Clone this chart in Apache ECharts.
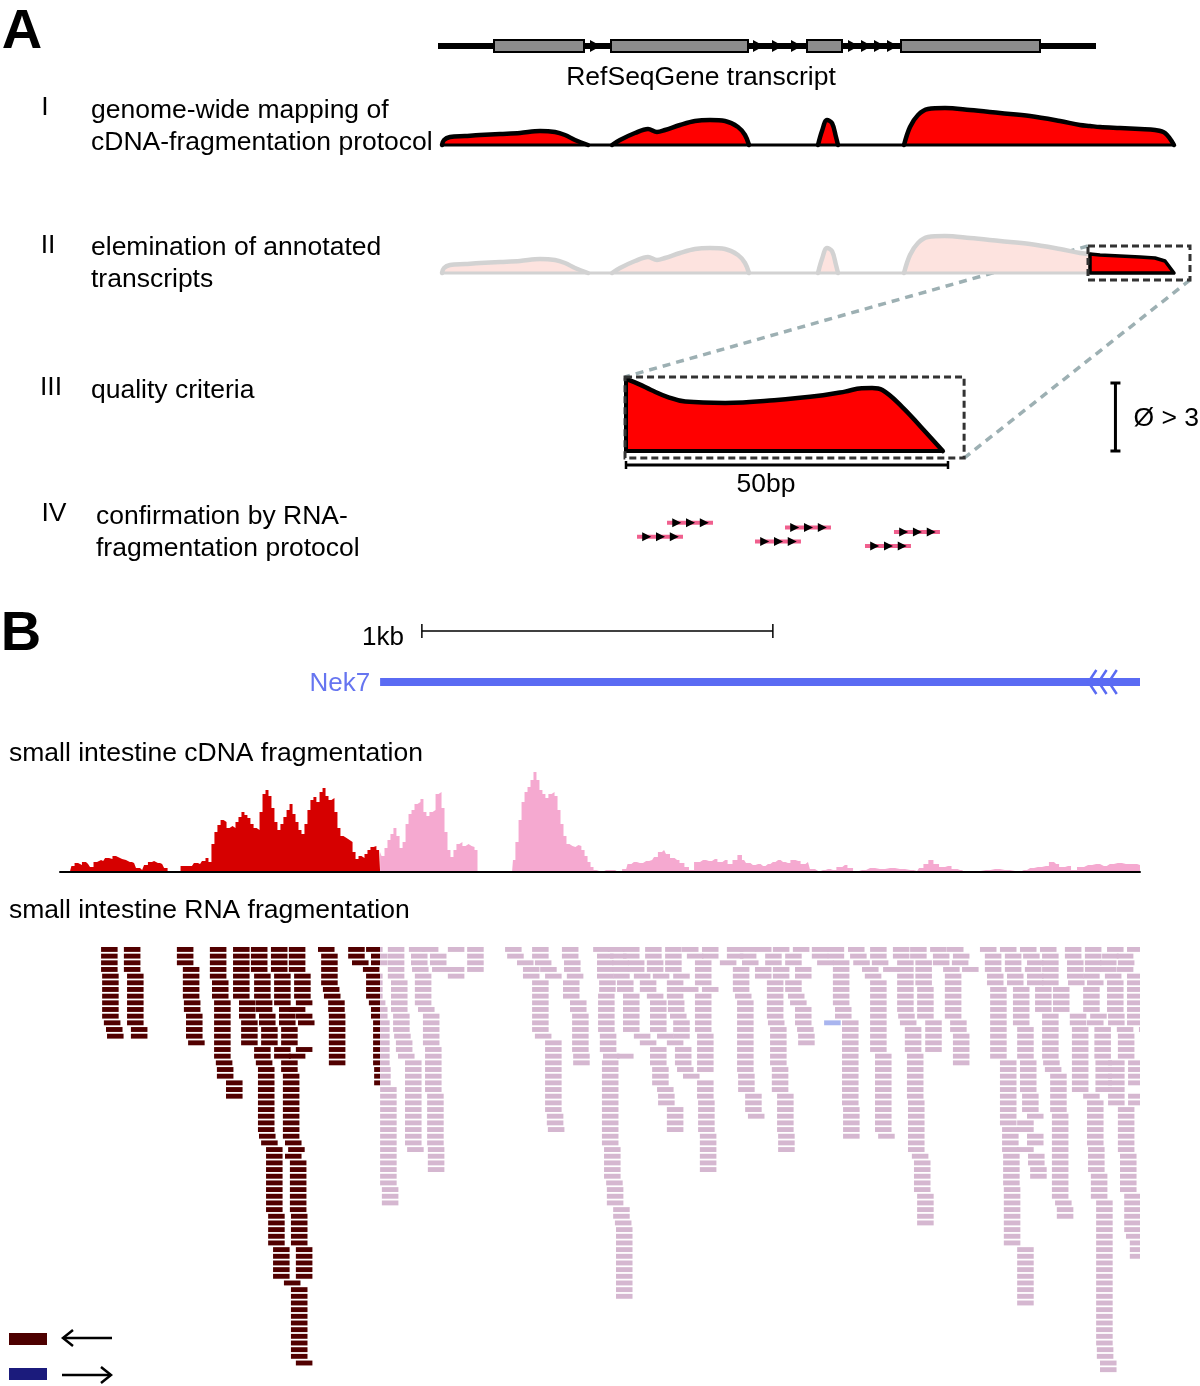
<!DOCTYPE html>
<html>
<head>
<meta charset="utf-8">
<title>cDNA vs RNA fragmentation – Nek7</title>
<script src="https://cdn.jsdelivr.net/npm/echarts@6/dist/echarts.min.js"></script>
<style>
html,body{margin:0;padding:0;background:#ffffff;}
#chart{width:1200px;height:1386px;}
</style>
</head>
<body>
<div id="chart"></div>
<script>
// ======================= DATA =======================
// ---- Panel A (schematic units along the RefSeq transcript) ----
const transcriptSpan = [0, 329];
const exons = [[28, 73], [86.5, 155], [184.5, 202], [231.5, 301]];
const intronArrows = [78.5, 160, 169.5, 179, 207.5, 214, 220.5, 227];
// cDNA coverage blobs: [position, height]
const cdnaSeg1 = [[2,0],[3,5],[6,8],[13.5,9],[21,10],[31,11],[41,12],[51,14],[58.5,13],[63.5,10],[68.5,5],[75,0]];
const cdnaSeg2 = [[87,0],[91,5],[98.5,12],[105,16],[109.5,13],[113.5,15],[121,20],[128.5,24],[136,25],[143.5,24],[150,18],[153.5,10],[155.5,0]];
const cdnaSeg3 = [[190,0],[192,14],[194.5,25],[197,22],[199,8],[200,0]];
const cdnaSeg4 = [[233,0],[236,18],[240,30],[245,36],[253.5,37],[266,35],[281,32],[296,29],[311,24],[321,20],[326,19],[331,18],[341,17],[351,16],[358.5,15],[363.5,12],[368,0]];
const novelStart = 326;              // start of the non-annotated region
const novelBox = [325, 376, -7, 27]; // x0, x1, y0, y1
// zoomed novel region (bp, mean coverage)
const zoomProfile = [[0,3.18],[2,2.95],[3.9,2.69],[6.5,2.38],[9.2,2.18],[15.4,2.12],[23,2.24],[30.6,2.46],[34,2.62],[36.6,2.77],[38.2,2.78],[39.8,2.69],[42.9,1.94],[45.8,1.06],[49.2,0]];
const zoomWindow = [-0.15, 52.5, -0.31, 3.27];
const scaleBarBp = [0, 50];
const coverageThreshold = [76, 3];   // [position, mean coverage]
// confirming RNA-fragmentation reads: [start bp, row]
const confirmReads = [[6.37,0],[1.71,3],[24.69,1],[20.03,4],[41.61,2],[37.11,5]];
const confirmReadLength = 7.14;

// ---- Panel B (bp along the locus) ----
const regionLength = 3077;
const highlightEnd = 912;
const kbBar = [1031, 2031];
const geneName = 'Nek7';
const geneSpan = [912, 3077];
const geneChevrons = [2930, 2959, 2988];
// cDNA fragmentation coverage: [bp, depth]
const cdnaCoverage = [
[0,0],[28,0],[37,6],[46,9],[57,7],[68,10],[80,8],[91,5],[100,10],[111,12],[123,11],[134,14],[145,13],[154,16],[165,14],[177,13],[188,12],[199,10],[211,9],[222,4],[234,2],[245,7],[256,10],[268,11],[279,9],[291,8],[302,4],[311,0],[376,6],[387,9],[399,8],[410,11],[419,14],[427,10],[436,28],[444,40],[453,47],[462,52],[470,50],[479,44],[487,46],[496,44],[504,50],[513,55],[521,60],[530,57],[538,54],[547,48],[556,44],[564,42],[573,60],[581,78],[590,82],[598,76],[607,64],[615,50],[624,42],[632,48],[641,55],[650,62],[658,68],[667,58],[675,50],[684,42],[692,38],[701,48],[709,62],[718,72],[726,75],[735,70],[744,80],[752,84],[761,76],[769,72],[778,74],[786,60],[795,44],[803,36],[812,34],[821,32],[829,30],[838,20],[846,13],[855,16],[863,14],[872,18],[880,22],[889,25],[897,26],[906,22],[912,20],
[920,16],[929,24],[937,32],[946,38],[954,44],[963,36],[972,24],[980,30],[989,48],[997,58],[1006,62],[1014,68],[1023,70],[1031,73],[1040,60],[1048,56],[1057,60],[1066,62],[1074,78],[1083,80],[1091,64],[1100,40],[1108,22],[1117,15],[1125,22],[1134,28],[1142,30],[1151,26],[1160,28],[1168,26],[1177,25],[1185,22],[1194,0],[1288,0],[1293,12],[1302,30],[1311,52],[1319,70],[1328,80],[1336,85],[1345,92],[1353,100],[1362,92],[1370,82],[1379,78],[1387,74],[1396,78],[1405,80],[1413,76],[1422,62],[1430,48],[1439,36],[1447,28],[1456,26],[1464,25],[1473,27],[1481,26],[1490,22],[1499,16],[1507,10],[1516,5],[1524,2],[1533,0],[1556,2],[1573,2],[1590,0],[1613,3],[1621,8],[1635,10],[1652,9],[1670,11],[1687,12],[1698,15],[1709,20],[1721,22],[1732,18],[1744,14],[1758,12],[1772,9],[1786,5],[1798,2],[1815,10],[1832,12],[1849,11],[1866,13],[1880,10],[1895,12],[1909,8],[1923,12],[1937,17],[1949,12],[1960,9],[1974,7],[1989,8],[2003,6],[2017,8],[2031,10],[2046,12],[2060,10],[2074,9],[2088,12],[2103,11],[2117,8],[2131,10],[2142,3],[2160,1],[2174,2],[2188,3],[2202,2],[2222,5],[2236,7],[2251,4],[2268,1],[2285,2],[2308,4],[2336,3],[2365,4],[2393,3],[2422,2],[2442,1],[2453,4],[2467,8],[2481,12],[2496,8],[2513,5],[2530,6],[2550,3],[2564,2],[2576,0],[2638,2],[2664,3],[2692,2],[2721,1],[2735,0],[2746,2],[2764,4],[2786,5],[2809,6],[2826,10],[2838,8],[2855,5],[2872,6],[2889,2],[2906,5],[2929,7],[2952,8],[2974,6],[2991,8],[3014,9],[3037,8],[3060,8],[3077,7]
];
// RNA fragmentation reads (reverse strand), stacked: [start bp, first row, last row]
const readLength = 50;
const reverseReadStacks = [
[117,0,3],[120,4,10],[125,11,11],[131,12,12],[134,13,13],
[182,0,3],[191,4,11],[202,12,13],
[333,0,2],[350,3,7],[353,8,9],[359,10,13],[365,14,14],
[427,0,4],[433,5,7],[439,8,16],[444,17,17],[447,18,19],[473,20,22],
[493,0,7],[510,8,10],[516,11,14],
[544,0,3],[553,4,7],[558,8,9],[567,10,11],[573,12,14],[553,15,16],[558,17,17],[564,18,27],[567,28,28],[573,29,29],[587,30,39],[593,40,44],[607,45,49],[638,50,50],[658,51,61],[672,62,62],
[601,0,3],[610,4,8],[624,9,11],[630,12,14],[610,15,16],[630,17,18],[635,19,28],[641,29,29],[650,30,30],[641,31,31],[655,32,39],[658,40,44],[672,45,49],
[652,0,3],[667,4,7],[672,8,8],[652,9,9],[672,10,10],[678,11,11],[672,15,15],[652,16,16],
[735,0,0],[744,1,5],[749,6,6],[752,7,7],[764,8,9],[766,10,17],
[821,0,1],[872,0,0],[886,1,2],[832,2,2],[863,3,3],[872,4,7],[880,8,8],[886,9,10],[892,11,17],[895,18,20],
[912,21,35],[917,36,38],
[934,0,4],[943,5,9],[949,10,12],[952,13,13],[957,14,15],[963,16,16],
[994,0,0],[1031,0,0],[1000,1,2],[1054,1,2],[1003,3,3],[1060,3,3],[1011,4,8],[1020,9,9],[1034,10,14],[1040,15,21],[1046,22,29],[1048,30,33],[983,17,29],[989,30,30],
[1105,0,0],[1105,3,4],[1160,0,3],
[1268,0,0],[1274,1,1],[1302,2,2],[1319,3,4],[1345,0,1],[1353,2,2],[1368,3,3],[1382,4,4],[1345,5,12],[1353,13,13],[1382,14,24],[1387,25,26],[1390,27,27],
[1430,0,1],[1436,2,3],[1444,4,4],[1433,5,7],[1453,8,9],[1459,10,15],[1462,16,17],
[1519,0,0],[1530,1,4],[1536,5,6],[1533,7,12],[1538,13,15],[1547,16,16],[1544,17,29],[1550,30,34],[1556,35,35],[1558,36,38],[1576,39,40],[1581,41,41],[1584,42,52],
[1561,0,0],[1567,1,1],[1573,2,3],[1576,4,4],[1587,5,6],[1604,7,12],[1587,16,16],
[1604,0,1],[1618,2,3],[1635,4,4],[1652,5,6],[1635,13,13],[1652,14,14],
[1667,0,1],[1672,2,3],[1689,4,4],[1672,7,7],[1681,8,12],[1701,13,13],[1681,15,17],[1687,18,20],[1701,21,21],[1704,22,23],[1729,24,27],
[1724,0,3],[1747,4,4],[1729,5,7],[1732,8,9],[1738,10,10],[1747,11,13],[1729,14,14],[1752,15,17],[1758,18,18],[1775,19,19],
[1772,0,0],[1829,0,1],[1786,1,1],[1809,2,5],[1772,6,6],[1829,6,6],[1809,7,12],[1815,13,18],[1815,20,22],[1818,23,27],[1823,28,33],[1880,2,2],
[1900,0,1],[1937,0,1],[1943,2,2],[1917,3,6],[1923,7,7],[1929,8,18],[1932,19,21],[1952,22,24],[1960,25,25],
[1980,0,0],[2031,0,0],[2088,0,0],[2009,1,2],[2066,1,2],[1980,3,4],[2031,3,4],[2094,3,4],[2014,5,10],[2066,5,6],[2074,7,7],[2080,8,8],[2094,9,11],[2017,11,11],[2023,12,17],[2100,12,12],[2103,13,14],[2028,18,21],[2043,22,27],[2046,28,30],
[2142,0,1],[2187,0,1],[2245,0,0],[2251,1,1],[2157,2,2],[2202,2,8],[2208,9,10],[2228,11,23],[2231,24,28],
[2308,0,1],[2260,2,2],[2313,2,2],[2285,3,3],[2345,3,3],[2293,4,4],[2308,5,15],[2322,16,27],[2331,28,28],
[2373,0,1],[2385,2,9],[2388,10,10],[2393,11,11],[2407,12,15],[2413,16,22],[2416,23,30],[2427,31,31],[2433,32,36],[2442,37,41],
[2422,0,1],[2437,2,5],[2442,6,10],[2465,11,15],
[2479,0,0],[2527,0,0],[2487,1,2],[2544,1,1],[2541,2,2],[2516,3,3],[2570,3,3],[2521,4,10],[2536,11,12],[2544,13,17],
[2621,0,0],[2678,0,0],[2635,1,3],[2692,1,3],[2641,4,5],[2698,4,5],[2650,6,16],[2715,6,11],[2727,12,16],[2678,17,26],[2684,27,30],[2687,31,35],[2689,36,44],[2727,45,53],[2735,17,21],[2741,22,24],[2755,25,25],[2727,26,27],[2755,28,29],[2727,30,30],[2758,31,32],[2764,33,34],
[2735,0,0],[2792,0,0],[2744,1,1],[2798,1,5],[2755,2,2],[2749,3,3],[2755,4,5],[2778,6,9],[2829,6,9],[2798,10,16],[2801,17,17],[2806,18,18],[2821,19,24],[2826,25,37],[2835,38,38],[2840,39,40],
[2863,0,1],[2869,2,4],[2872,5,5],[2877,10,11],[2883,12,21],[2915,22,22],[2926,23,29],[2929,30,33],[2937,34,37],[2952,38,59],[2954,60,61],[2963,62,63],
[2920,0,3],[2915,4,4],[2926,5,5],[2915,6,9],[2935,10,10],[2926,11,11],[2947,12,16],[2950,17,21],
[2983,0,0],[2969,1,1],[2963,2,3],[2977,4,4],[2983,5,9],[2986,10,11],[3011,12,12],[3014,13,16],[2986,17,23],[3014,24,30],[3020,31,36],[3032,37,42],[3037,43,43],[3048,44,46],
[3040,0,0],[3011,1,1],[3014,2,2],[3011,3,3],[3040,4,11],[3074,12,12],[3043,17,20],[3043,22,23]
];
// forward-strand reads: [start bp, row]
const forwardReads = [[2177, 11]];

// ======================= RENDER =======================
const FF = '"Liberation Sans", Arial, Helvetica, sans-serif';
const font = (s, w) => (w || 'normal') + ' ' + s + 'px ' + FF;
const RED = '#ff0000';

function txt(text, x, y, o) {
  o = o || {};
  const al = o.align || 'left';
  return { type: 'text', x: x, y: y, silent: true, z: 100,
    style: { text: text, x: 0, y: 0, font: font(o.size || 26.5, o.weight), fill: o.color || '#000',
      textAlign: al, align: al, textVerticalAlign: 'middle', verticalAlign: 'middle' } };
}
function tstyle(text, x, y, size, color, al) {
  return { text: text, x: x, y: y, font: font(size), fill: color || '#000',
    textAlign: al || 'left', align: al || 'left', textVerticalAlign: 'middle', verticalAlign: 'middle' };
}

const grids = [
  { left: 438, top: 36, width: 752, height: 20 },
  { left: 438, top: 105, width: 752, height: 40 },
  { left: 438, top: 233, width: 752, height: 40 },
  { left: 626, top: 371.67, width: 574, height: 79.33 },
  { left: 626, top: 520.4, width: 574, height: 28 },
  { left: 60, top: 624, width: 1080, height: 14 },
  { left: 60, top: 672, width: 1080, height: 20 },
  { left: 60, top: 772, width: 1080, height: 100 },
  { left: 60, top: 946.7, width: 1080, height: 426.9 }
];
const xr = [[0,376],[0,376],[0,376],[0,89.13],[0,89.13],[0,regionLength],[0,regionLength],[0,regionLength],[0,regionLength]];
const yr = [[0,1],[0,40],[0,40],[0,3.5],[-0.5,5.5],[0,1],[0,1],[0,100],[0,64]];
const xAxis = xr.map((r, i) => ({ type: 'value', gridIndex: i, min: r[0], max: r[1], show: i === 7, z: 5,
  axisLine: { show: i === 7, onZero: false, lineStyle: { color: '#000', width: 2 } },
  axisTick: { show: false }, axisLabel: { show: false }, splitLine: { show: false } }));
const yAxis = yr.map((r, i) => ({ type: 'value', gridIndex: i, min: r[0], max: r[1], show: false,
  inverse: i === 4 || i === 8, splitLine: { show: false } }));

const series = [];
function custom(gi, data, renderItem, z) {
  series.push({ type: 'custom', xAxisIndex: gi, yAxisIndex: gi, data: data, renderItem: renderItem,
    silent: true, z: z || 2, clip: false, animation: false });
}
function blob(gi, data, lineColor, fill, z) {
  series.push({ type: 'line', xAxisIndex: gi, yAxisIndex: gi, data: data, smooth: 0.35, symbol: 'none',
    silent: true, clip: false, z: z || 2, animation: false,
    lineStyle: { color: lineColor, width: 4.5, cap: 'round', join: 'round' },
    areaStyle: { color: fill, opacity: 1 } });
}

// --- transcript model ---
custom(0, [transcriptSpan], (p, api) => {
  const a = api.coord([api.value(0), 0.5]), b = api.coord([api.value(1), 0.5]);
  return { type: 'line', shape: { x1: a[0], y1: a[1], x2: b[0], y2: b[1] }, style: { stroke: '#000', lineWidth: 6 } };
});
custom(0, exons, (p, api) => {
  const a = api.coord([api.value(0), 0.5]), b = api.coord([api.value(1), 0.5]);
  return { type: 'rect', shape: { x: a[0], y: a[1] - 6, width: b[0] - a[0], height: 12 },
    style: { fill: '#8c8c8c', stroke: '#000', lineWidth: 2 } };
}, 3);
custom(0, intronArrows.map(x => [x]), (p, api) => {
  const c = api.coord([api.value(0), 0.5]);
  return { type: 'polygon', shape: { points: [[c[0] - 5, c[1] - 6], [c[0] + 6, c[1]], [c[0] - 5, c[1] + 6]] }, style: { fill: '#000' } };
}, 3);

// --- row I: genome-wide cDNA coverage ---
const cdnaSegments = [cdnaSeg1, cdnaSeg2, cdnaSeg3, cdnaSeg4];
cdnaSegments.forEach(s => blob(1, s, '#000', RED, 2));
custom(1, [[cdnaSeg1[0][0], cdnaSeg4[cdnaSeg4.length - 1][0]]], (p, api) => {
  const a = api.coord([api.value(0), 0]), b = api.coord([api.value(1), 0]);
  return { type: 'line', shape: { x1: a[0], y1: a[1], x2: b[0], y2: b[1] }, style: { stroke: '#000', lineWidth: 3 } };
}, 4);

// --- row II: annotated parts removed ---
cdnaSegments.map(s => s.filter(d => d[0] <= novelStart)).filter(s => s.length > 1)
  .forEach(s => blob(2, s, '#d2d2d2', '#fde3df', 2));
custom(2, [[cdnaSeg1[0][0], novelStart]], (p, api) => {
  const a = api.coord([api.value(0), 0]), b = api.coord([api.value(1), 0]);
  return { type: 'line', shape: { x1: a[0], y1: a[1], x2: b[0], y2: b[1] }, style: { stroke: '#d2d2d2', lineWidth: 3 } };
}, 3);
const novelPiece = cdnaSeg4.filter(d => d[0] >= novelStart);
custom(2, [[novelStart]], (p, api) => {
  const pts = [api.coord([novelPiece[0][0], 0])].concat(novelPiece.map(d => api.coord(d)));
  return { type: 'polygon', shape: { points: pts }, style: { fill: RED, stroke: '#000', lineWidth: 3.5, lineJoin: 'round' } };
}, 4);
custom(2, [novelBox], (p, api) => {
  const a = api.coord([api.value(0), api.value(3)]), b = api.coord([api.value(1), api.value(2)]);
  return { type: 'rect', shape: { x: a[0], y: a[1], width: b[0] - a[0], height: b[1] - a[1] },
    style: { fill: 'none', stroke: '#333', lineWidth: 3, lineDash: [7, 4] } };
}, 5);

// --- row III: quality criteria (zoom) ---
series.push({ type: 'line', xAxisIndex: 3, yAxisIndex: 3, data: zoomProfile, smooth: 0.4, symbol: 'none',
  silent: true, clip: false, z: 2, animation: false,
  lineStyle: { color: '#000', width: 4.5, cap: 'round', join: 'round' }, areaStyle: { color: RED, opacity: 1 } });
custom(3, [[zoomProfile[0][0], zoomProfile[0][1], zoomProfile[zoomProfile.length - 1][0]]], (p, api) => {
  const t = api.coord([api.value(0), api.value(1)]), o = api.coord([api.value(0), 0]), e = api.coord([api.value(2), 0]);
  return { type: 'polyline', shape: { points: [t, o, e] }, style: { stroke: '#000', lineWidth: 4, fill: 'none', lineJoin: 'round' } };
}, 3);
custom(3, [zoomWindow], (p, api) => {
  const a = api.coord([api.value(0), api.value(3)]), b = api.coord([api.value(1), api.value(2)]);
  return { type: 'rect', shape: { x: a[0], y: a[1], width: b[0] - a[0], height: b[1] - a[1] },
    style: { fill: 'none', stroke: '#333', lineWidth: 3, lineDash: [7, 4] } };
}, 5);
custom(3, [scaleBarBp], (p, api) => {
  const a = api.coord([api.value(0), 0]), b = api.coord([api.value(1), 0]);
  const y = a[1] + 14;
  return { type: 'group', children: [
    { type: 'line', shape: { x1: a[0], y1: y, x2: b[0], y2: y }, style: { stroke: '#000', lineWidth: 3 } },
    { type: 'line', shape: { x1: a[0], y1: y - 4, x2: a[0], y2: y + 4 }, style: { stroke: '#000', lineWidth: 2.5 } },
    { type: 'line', shape: { x1: b[0], y1: y - 4, x2: b[0], y2: y + 4 }, style: { stroke: '#000', lineWidth: 2.5 } },
    { type: 'text', style: tstyle((api.value(1) - api.value(0)) + 'bp', (a[0] + b[0]) / 2 - 21, y + 20, 26.5, '#000', 'center') }
  ] };
}, 5);
custom(3, [[coverageThreshold[0], 0, coverageThreshold[1]]], (p, api) => {
  const a = api.coord([api.value(0), api.value(1)]), b = api.coord([api.value(0), api.value(2)]);
  return { type: 'group', children: [
    { type: 'line', shape: { x1: a[0], y1: a[1], x2: b[0], y2: b[1] }, style: { stroke: '#000', lineWidth: 3 } },
    { type: 'line', shape: { x1: a[0] - 5, y1: a[1], x2: a[0] + 5, y2: a[1] }, style: { stroke: '#000', lineWidth: 3 } },
    { type: 'line', shape: { x1: b[0] - 5, y1: b[1], x2: b[0] + 5, y2: b[1] }, style: { stroke: '#000', lineWidth: 3 } },
    { type: 'text', style: tstyle('\u00D8 > ' + api.value(2), a[0] + 18, (a[1] + b[1]) / 2 + 2, 26.5, '#000', 'left') }
  ] };
}, 5);

// --- row IV: confirming reads ---
custom(4, confirmReads, (p, api) => {
  const s = api.value(0), r = api.value(1);
  const a = api.coord([s, r]), b = api.coord([s + confirmReadLength, r]);
  const kids = [{ type: 'line', shape: { x1: a[0], y1: a[1], x2: b[0], y2: b[1] }, style: { stroke: '#f0608e', lineWidth: 4 } }];
  [0.2, 0.5, 0.8].forEach(f => {
    const cx = a[0] + (b[0] - a[0]) * f, cy = a[1];
    kids.push({ type: 'polygon', shape: { points: [[cx - 4, cy - 4.5], [cx + 5, cy], [cx - 4, cy + 4.5]] }, style: { fill: '#000' } });
  });
  return { type: 'group', children: kids };
}, 3);

// --- panel B: 1kb scale bar ---
custom(5, [kbBar], (p, api) => {
  const a = api.coord([api.value(0), 0.5]), b = api.coord([api.value(1), 0.5]);
  return { type: 'group', children: [
    { type: 'line', shape: { x1: a[0], y1: a[1], x2: b[0], y2: b[1] }, style: { stroke: '#000', lineWidth: 1.5 } },
    { type: 'line', shape: { x1: a[0], y1: a[1] - 7, x2: a[0], y2: a[1] + 7 }, style: { stroke: '#000', lineWidth: 1.5 } },
    { type: 'line', shape: { x1: b[0], y1: b[1] - 7, x2: b[0], y2: b[1] + 7 }, style: { stroke: '#000', lineWidth: 1.5 } },
    { type: 'text', style: tstyle(((api.value(1) - api.value(0)) / 1000) + 'kb', a[0] - 18, a[1] + 7, 26, '#000', 'right') }
  ] };
});
// gene model
custom(6, [geneSpan], (p, api) => {
  const a = api.coord([api.value(0), 0.5]), b = api.coord([api.value(1), 0.5]);
  return { type: 'group', children: [
    { type: 'line', shape: { x1: a[0], y1: a[1], x2: b[0], y2: b[1] }, style: { stroke: '#5a6bf3', lineWidth: 8 } },
    { type: 'text', style: tstyle(geneName, a[0] - 10, a[1] + 2, 26, '#6675f0', 'right') }
  ] };
});
custom(6, geneChevrons.map(x => [x]), (p, api) => {
  const c = api.coord([api.value(0), 0.5]);
  return { type: 'polyline', shape: { points: [[c[0] + 8, c[1] - 12], [c[0], c[1]], [c[0] + 8, c[1] + 12]] },
    style: { stroke: '#5a6bf3', lineWidth: 2.5, fill: 'none' } };
}, 3);

// coverage
series.push({ type: 'line', xAxisIndex: 7, yAxisIndex: 7, data: cdnaCoverage.filter(d => d[0] <= highlightEnd),
  step: 'middle', symbol: 'none', silent: true, z: 2, animation: false,
  lineStyle: { width: 0, color: '#d60000' }, areaStyle: { color: '#d60000', opacity: 1 } });
series.push({ type: 'line', xAxisIndex: 7, yAxisIndex: 7, data: cdnaCoverage.filter(d => d[0] >= highlightEnd),
  step: 'middle', symbol: 'none', silent: true, z: 2, animation: false,
  lineStyle: { width: 0, color: '#f5a9d0' }, areaStyle: { color: '#f5a9d0', opacity: 1 } });

// reads
const readItems = [];
reverseReadStacks.forEach(s => { for (let r = s[1]; r <= s[2]; r++) readItems.push([s[0], r, 0]); });
forwardReads.forEach(s => readItems.push([s[0], s[1], 1]));
custom(8, readItems, (p, api) => {
  const s = api.value(0), r = api.value(1), strand = api.value(2);
  const a = api.coord([s, r]), b = api.coord([s + readLength, r]);
  const hl = api.coord([highlightEnd, r])[0];
  const cs = p.coordSys;
  const left = a[0], right = Math.min(b[0] - 1, cs.x + cs.width);
  const y = a[1] + 0.3, h = 4.9;
  const pal = strand === 0 ? ['#520000', '#d5b7d0'] : ['#1b1b80', '#a9b5ef'];
  const kids = [];
  if (left < hl) kids.push({ type: 'rect', shape: { x: left, y: y, width: Math.min(right, hl) - left, height: h }, style: { fill: pal[0] } });
  if (right > hl) { const l2 = Math.max(left, hl); kids.push({ type: 'rect', shape: { x: l2, y: y, width: right - l2, height: h }, style: { fill: pal[1] } }); }
  return { type: 'group', children: kids };
});

// ---- text & legend ----
const graphics = [
  txt('A', 22, 33, { size: 56, weight: 'bold', align: 'center' }),
  txt('RefSeqGene transcript', 701, 78, { align: 'center' }),
  txt('I', 45, 108, { align: 'center' }),
  txt('genome-wide mapping of', 91, 111),
  txt('cDNA-fragmentation protocol', 91, 143),
  txt('II', 48, 246, { align: 'center' }),
  txt('elemination of annotated', 91, 248),
  txt('transcripts', 91, 280),
  txt('III', 51, 388, { align: 'center' }),
  txt('quality criteria', 91, 391),
  txt('IV', 54, 514, { align: 'center' }),
  txt('confirmation by RNA-', 96, 517),
  txt('fragmentation protocol', 96, 549),
  txt('B', 21, 635, { size: 56, weight: 'bold', align: 'center' }),
  txt('small intestine cDNA fragmentation', 9, 754),
  txt('small intestine RNA fragmentation', 9, 911),
  { type: 'rect', shape: { x: 9, y: 1333, width: 38, height: 12 }, style: { fill: '#4d0000' } },
  { type: 'polyline', shape: { points: [[112, 1338], [63, 1338]] }, style: { stroke: '#000', lineWidth: 2.5, fill: 'none' } },
  { type: 'polyline', shape: { points: [[73, 1330], [63, 1338], [73, 1346]] }, style: { stroke: '#000', lineWidth: 2.5, fill: 'none' } },
  { type: 'rect', shape: { x: 9, y: 1368, width: 38, height: 12 }, style: { fill: '#1b1b7c' } },
  { type: 'polyline', shape: { points: [[62, 1375], [111, 1375]] }, style: { stroke: '#000', lineWidth: 2.5, fill: 'none' } },
  { type: 'polyline', shape: { points: [[101, 1367], [111, 1375], [101, 1383]] }, style: { stroke: '#000', lineWidth: 2.5, fill: 'none' } }
];

const option = { animation: false, backgroundColor: '#ffffff', grid: grids, xAxis: xAxis, yAxis: yAxis, series: series, graphic: graphics };
const chart = echarts.init(document.getElementById('chart'), null, { renderer: 'canvas', width: 1200, height: 1386 });
chart.setOption(option);

// dashed connectors from the row-II window to the zoomed window (positions from the axes)
const c1 = chart.convertToPixel({ xAxisIndex: 2, yAxisIndex: 2 }, [novelBox[0], novelBox[3]]);
const c2 = chart.convertToPixel({ xAxisIndex: 3, yAxisIndex: 3 }, [zoomWindow[0], zoomWindow[3]]);
const c3 = chart.convertToPixel({ xAxisIndex: 2, yAxisIndex: 2 }, [novelBox[1], novelBox[2]]);
const c4 = chart.convertToPixel({ xAxisIndex: 3, yAxisIndex: 3 }, [zoomWindow[1], zoomWindow[2]]);
[[c1, c2], [c3, c4]].forEach(pr => graphics.push({ type: 'line', z: 1,
  shape: { x1: pr[0][0], y1: pr[0][1], x2: pr[1][0], y2: pr[1][1] },
  style: { stroke: '#9db0b3', lineWidth: 3.5, lineDash: [8, 6] } }));
option.graphic = graphics;
chart.setOption(option, true);
</script>
</body>
</html>
